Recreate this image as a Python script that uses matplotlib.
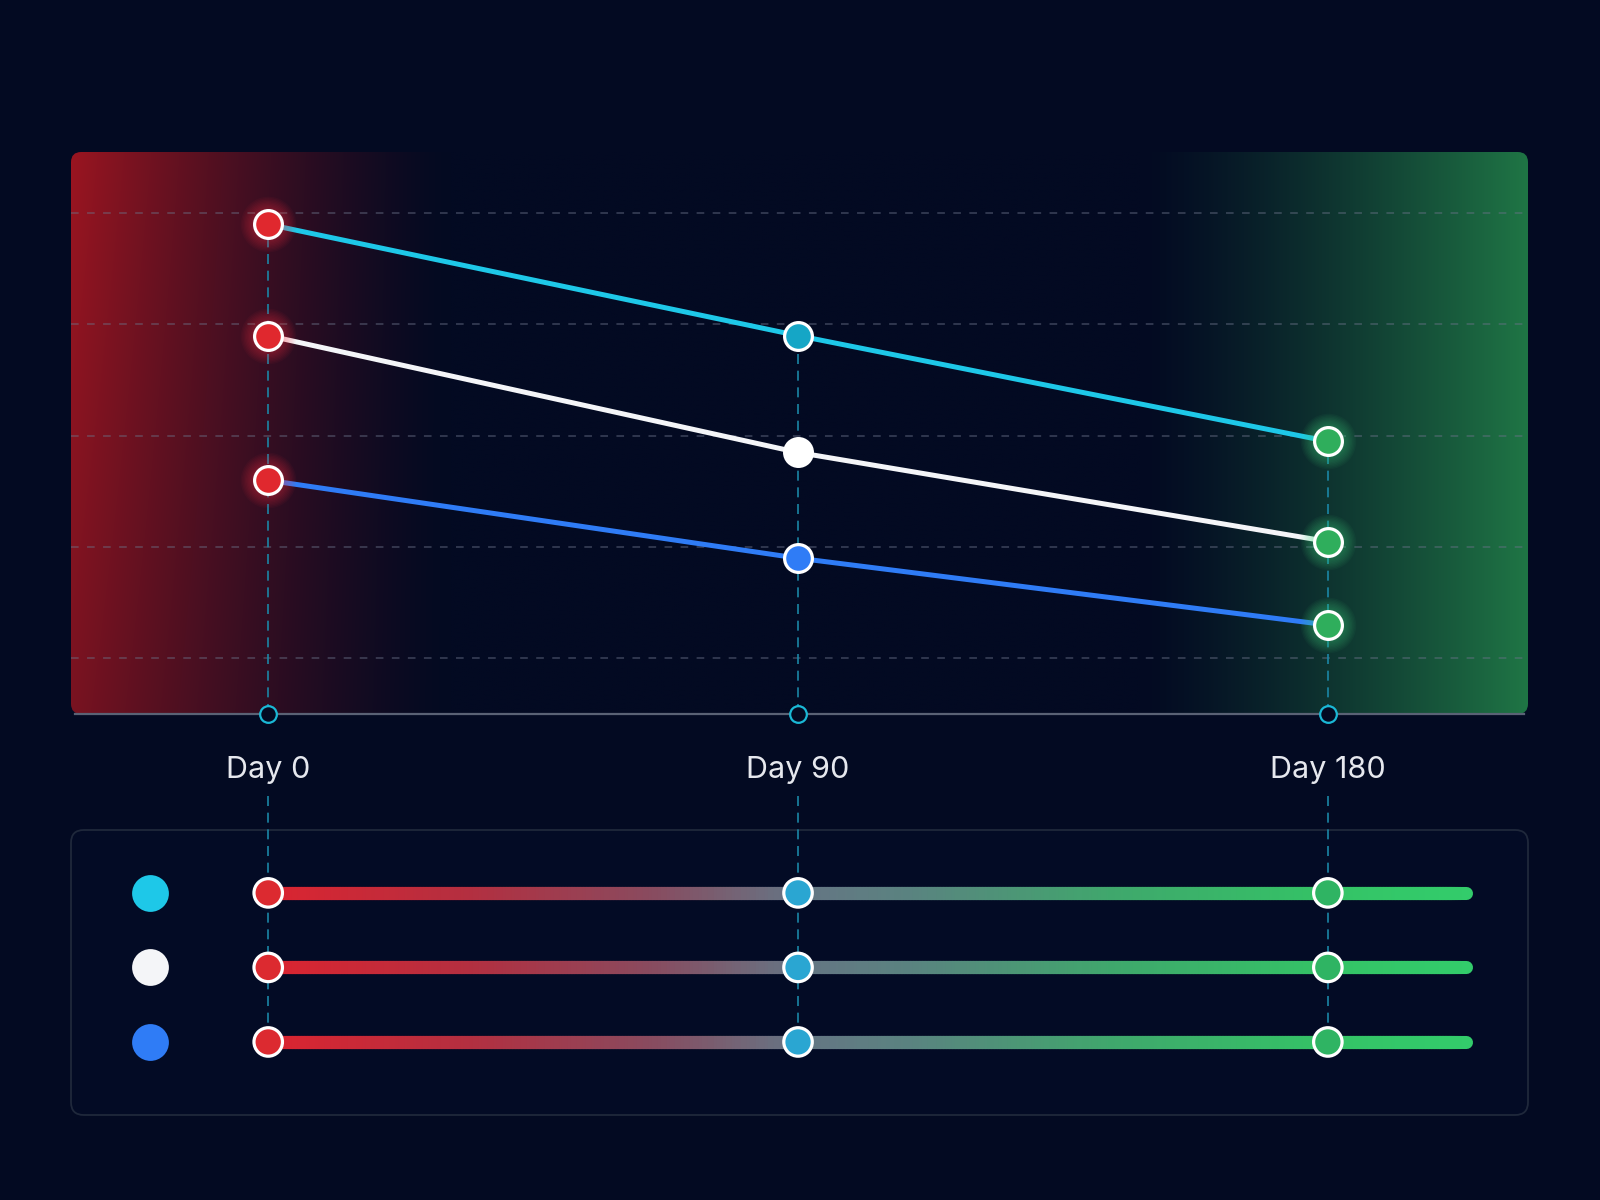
import numpy as np
import matplotlib
matplotlib.use("Agg")
import matplotlib.pyplot as plt
from matplotlib.patches import FancyBboxPatch
from matplotlib.collections import LineCollection
from matplotlib.colors import LinearSegmentedColormap, to_rgb

plt.rcParams['font.family'] = ['Inter', 'DejaVu Sans']

# data
days = [0, 90, 180]
day_labels = ['Day 0', 'Day 90', 'Day 180']
series_colors = ['#1ec8e8', '#f4f5f8', '#2f7cf6']
cyan_vals = [98, 78, 59]
white_vals = [78, 57, 41]
blue_vals = [52, 38, 26]
series_vals = [cyan_vals, white_vals, blue_vals]
grid_vals = [20, 40, 60, 80, 100]
rows = [0, 1, 2]
bar_end = 203.5  # end of legend track, in days

# marker fills per day (main chart)
day0_fill = '#e0282e'
day90_fills = ['#15a6c6', '#ffffff', '#2f7cf6']
day180_fill = '#2fae5c'
legend_fills = ['#dc2a30', '#2aa6d2', '#2fb463']

BG = '#030a22'
W, H = 1600, 1200


def frac(x0, y0, x1, y1):
    return [x0 / W, 1 - y1 / H, (x1 - x0) / W, (y1 - y0) / H]


fig = plt.figure(figsize=(16, 12), dpi=100, facecolor=BG)

# ---- top chart
ax = fig.add_axes(frac(71, 152, 1528, 714))
ax.set_facecolor('none')
xlim = (-33.5, 214)
ylim = (10, 111)
ax.set_xlim(*xlim)
ax.set_ylim(*ylim)
for s in ax.spines.values():
    s.set_visible(False)

# red/green side glow
nx, ny = 900, 200
u = np.linspace(0, 1, nx)
v = np.linspace(0, 1, ny)
red_a = np.clip(1 - u / 0.26, 0, 1) ** 1.35
green_a = np.clip((u - 0.735) / 0.265, 0, 1) ** 1.3
bg = np.array(to_rgb(BG))
red = np.array(to_rgb('#9a1520'))
green = np.array(to_rgb('#1f7545'))
vfac = (0.78 + 0.22 * v)[:, None]
img = (bg[None, None, :]
       + (red_a[None, :] * vfac)[:, :, None] * (red - bg)[None, None, :]
       + green_a[None, :, None] * np.ones((ny, 1, 1)) * (green - bg)[None, None, :])
img = np.clip(img, 0, 1)
clip = FancyBboxPatch((0, 0), 1, 1, boxstyle='round,pad=0,rounding_size=0.007',
                      mutation_aspect=1457 / 562, transform=ax.transAxes,
                      facecolor='none', edgecolor='none')
ax.add_patch(clip)
im = ax.imshow(img, extent=[xlim[0], xlim[1], ylim[0], ylim[1]], origin='lower',
               aspect='auto', zorder=0, interpolation='bilinear')
im.set_clip_path(clip)

for g in grid_vals:
    ax.axhline(g, color='#6a7288', lw=1.1, alpha=0.55, dashes=(5, 5.5), zorder=1)
ax.axhline(ylim[0], xmin=0.003, xmax=0.997, color='#5a6275', lw=1.6, zorder=2, clip_on=False)

for i, d in enumerate(days):
    top = max(vals[i] for vals in series_vals)
    ax.plot([d, d], [ylim[0], top], color='#1b86a6', lw=1.2, dashes=(6, 4), zorder=2)
ax.plot(days, [ylim[0]] * len(days), 'o', ms=12, mfc=BG, mec='#1ab8d6', mew=1.6,
        clip_on=False, zorder=6)

for vals, col in zip(series_vals, series_colors):
    ax.plot(days, vals, color=col, lw=3.6, zorder=3, solid_capstyle='round')

glow_sizes = np.linspace(22, 40, 10)
for k, vals in enumerate(series_vals):
    # soft glows
    for ms in glow_sizes:
        ax.plot(days[0], vals[0], 'o', ms=ms, color='#ff3a48', alpha=0.045, mec='none', zorder=4)
        ax.plot(days[2], vals[2], 'o', ms=ms, color='#45e085', alpha=0.045, mec='none', zorder=4)
    ax.plot(days[0], vals[0], 'o', ms=20, mfc=day0_fill, mec='white', mew=2.3, zorder=5)
    ax.plot(days[1], vals[1], 'o', ms=20, mfc=day90_fills[k], mec='white', mew=2.3, zorder=5)
    ax.plot(days[2], vals[2], 'o', ms=20, mfc=day180_fill, mec='white', mew=2.3, zorder=5)

ax.set_xticks(days, day_labels)
ax.set_yticks([])
ax.tick_params(axis='x', length=0, pad=30, labelsize=22, labelcolor='#e6e8ee')

# ---- bottom legend panel
panel = FancyBboxPatch((71 / W, 1 - 1115 / H), 1457 / W, 285 / H,
                       boxstyle='round,pad=0,rounding_size=0.008', mutation_aspect=W / H,
                       transform=fig.transFigure, facecolor='#030b25',
                       edgecolor='#1f283b', lw=1.3, zorder=-1)
fig.add_artist(panel)

bx = fig.add_axes(frac(71, 796, 1528, 1115))
bx.set_facecolor('none')
bx.set_xlim(*xlim)
bx.set_ylim(2.98, -1.30)
bx.axis('off')

for d in days:
    bx.plot([d, d], [-1.30, rows[-1]], color='#1b86a6', lw=1.2, dashes=(6, 4), zorder=1)

track_nodes = [(0, '#dc2430'), (35, '#b32f40'), (65, '#8a4a5e'), (90, '#667484'),
               (110, '#5a8380'), (145, '#3fa86c'), (180, '#34c266'), (bar_end, '#33cc6b')]
cmap = LinearSegmentedColormap.from_list(
    'track', [(p / bar_end, c) for p, c in track_nodes])

xs = np.linspace(0, bar_end - 2, 400)
for r in rows:
    bx.plot(-20, r, 'o', ms=26.5, color=series_colors[r], mec='none', zorder=3)
    bx.plot([bar_end - 3, bar_end], [r, r], color=track_nodes[-1][1], lw=9.4,
            solid_capstyle='round', zorder=2)
    pts = np.column_stack([xs, np.full_like(xs, r)])
    segs = np.stack([pts[:-1], pts[1:]], axis=1)
    lc = LineCollection(segs, colors=cmap(xs[:-1] / bar_end), linewidths=9.4,
                        capstyle='projecting', zorder=2)
    bx.add_collection(lc)
    bx.scatter(days, [r] * len(days), s=20.5 ** 2, c=legend_fills, edgecolors='white',
               linewidths=2.3, zorder=5)

fig.savefig('out.png', dpi=100, facecolor=BG)
